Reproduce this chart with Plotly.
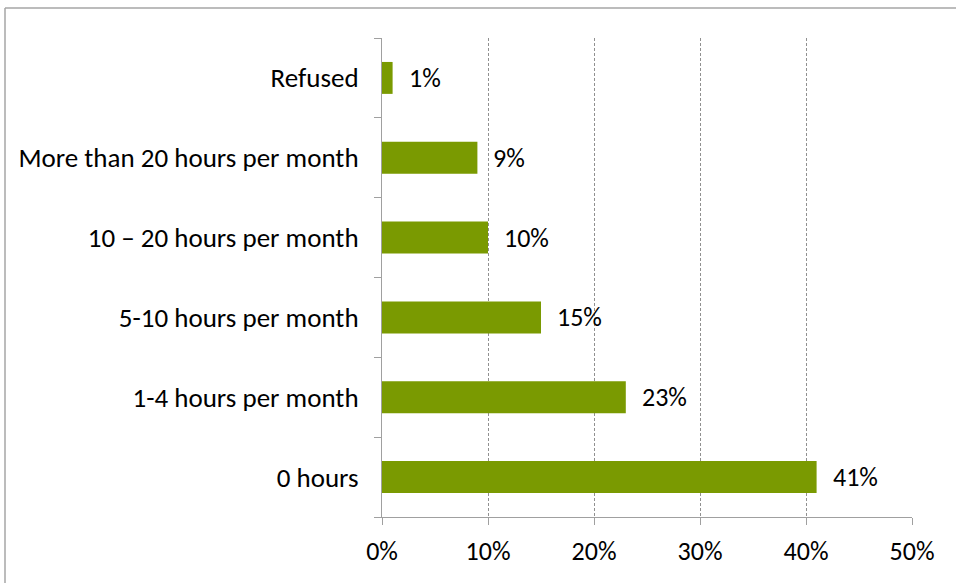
import plotly.graph_objects as go

categories = ["0 hours", "1-4 hours per month", "5-10 hours per month",
              "10 – 20 hours per month", "More than 20 hours per month", "Refused"]
values = [41, 23, 15, 10, 9, 1]
labels = ["41%", "23%", "15%", "10%", "9%", "1%"]
tick_vals = [0, 10, 20, 30, 40, 50]
tick_text = ["0%", "10%", "20%", "30%", "40%", "50%"]

GREEN = "#7A9A01"
FONT = "Carlito, Calibri, Lato, sans-serif"
FS = 27

fig = go.Figure()
fig.add_trace(go.Bar(
    x=values, y=categories, orientation="h",
    marker=dict(color=GREEN, line=dict(width=0)),
    hoverinfo="skip",
))

for v, c, t in zip(values, categories, labels):
    fig.add_annotation(x=v, y=c, text=t, showarrow=False, xanchor="left",
                       xshift=14, font=dict(family=FONT, size=FS - 1, color="#000000"))

L, R, T, B = 382, 44, 38, 66
W, H = 956, 583
pw = W - L - R
ph = H - T - B
# outer chart frame (left and top edges visible)
fx0 = (5 - L) / pw
fy1 = (H - B - 8) / ph
fig.add_shape(type="line", xref="paper", yref="paper", x0=fx0, x1=fx0,
              y0=-0.3, y1=fy1, line=dict(color="#A6A6A6", width=1.5))
fig.add_shape(type="line", xref="paper", yref="paper", x0=fx0, x1=1.2,
              y0=fy1, y1=fy1, line=dict(color="#A6A6A6", width=1.5))

fig.update_layout(
    width=W, height=H,
    margin=dict(l=L, r=R, t=T, b=B),
    paper_bgcolor="white", plot_bgcolor="white",
    bargap=0.6,
    showlegend=False,
    font=dict(family=FONT, size=FS, color="#000000"),
)
fig.update_xaxes(
    range=[0, 50], tickvals=tick_vals, ticktext=tick_text,
    showgrid=True, gridcolor="#909090", griddash="3px,2px", gridwidth=1,
    zeroline=False, showline=True, linecolor="#A0A0A0", linewidth=1,
    ticks="outside", ticklen=7, tickcolor="#A0A0A0", ticklabelstandoff=4,
    tickfont=dict(family=FONT, size=FS - 1), fixedrange=True,
)
fig.update_yaxes(
    categoryorder="array", categoryarray=categories,
    showgrid=False, showline=True, linecolor="#A0A0A0", linewidth=1,
    ticks="", tickfont=dict(family=FONT, size=FS), ticklabelstandoff=17,
    fixedrange=True,
)
# y-axis tick marks at category boundaries via a secondary linear overlay
fig.update_layout(yaxis2=dict(overlaying="y", range=[0, 6], tickvals=[0, 1, 2, 3, 4, 5, 6],
                              showticklabels=False, ticks="outside", ticklen=7,
                              tickcolor="#A0A0A0", showgrid=False, zeroline=False,
                              side="left", fixedrange=True))
fig.add_trace(go.Scatter(x=[None], y=[None], yaxis="y2", showlegend=False))

fig.write_html("out.html", config={"displayModeBar": False},
               post_script="document.body.style.margin='0';")
